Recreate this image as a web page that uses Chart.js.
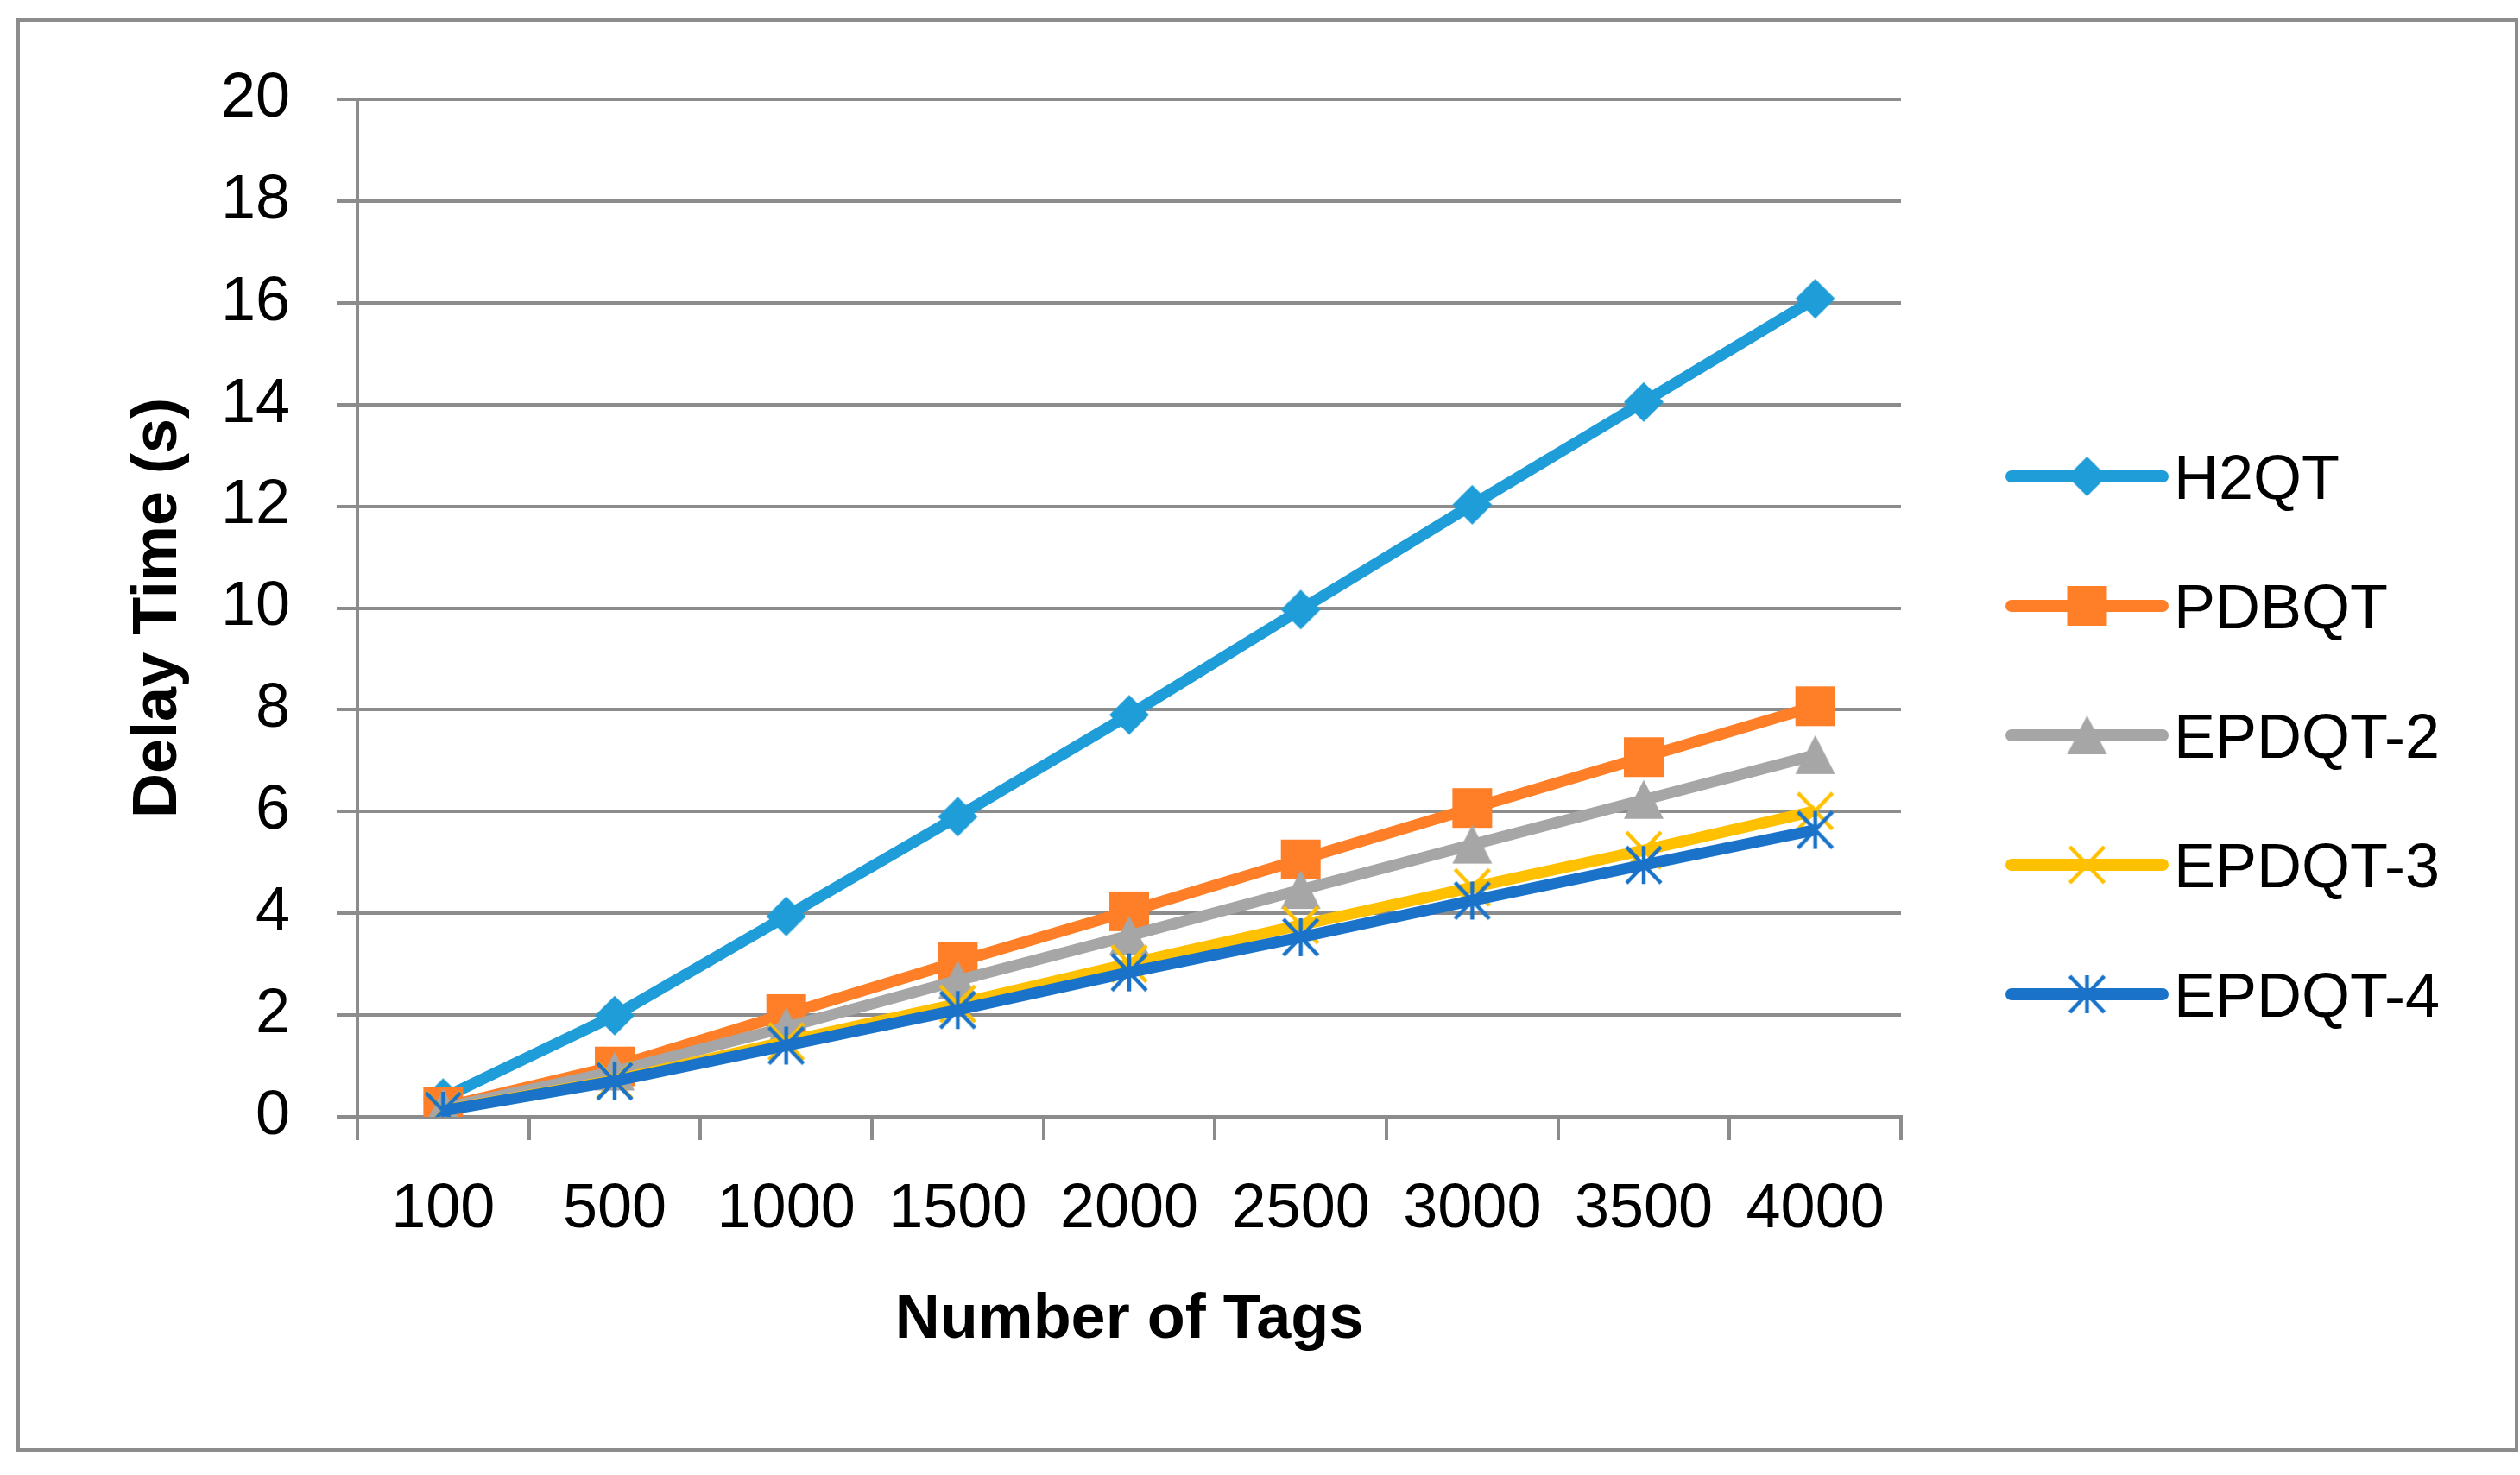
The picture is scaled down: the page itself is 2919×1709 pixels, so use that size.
<!DOCTYPE html>
<html>
<head>
<meta charset="utf-8">
<title>Delay Time vs Number of Tags</title>
<script src="https://cdn.jsdelivr.net/npm/chart.js@4.4.1/dist/chart.umd.min.js"></script>
<style>
  html, body { margin: 0; padding: 0; background: #fff; }
  #wrap { position: relative; width: 2919px; height: 1709px; }
</style>
</head>
<body>
<div id="wrap"><canvas id="delayChart"></canvas></div>
<script>
// Data
const tagCounts = ["100", "500", "1000", "1500", "2000", "2500", "3000", "3500", "4000"];
const seriesNames = ["H2QT", "PDBQT", "EPDQT-2", "EPDQT-3", "EPDQT-4"];
const h2qt = [0.37, 1.99, 3.94, 5.90, 7.90, 9.97, 12.03, 14.05, 16.08];
const pdbqt = [0.19, 0.99, 2.02, 3.05, 4.04, 5.06, 6.07, 7.07, 8.07];
const epdqt2 = [0.17, 0.89, 1.76, 2.68, 3.56, 4.46, 5.35, 6.23, 7.11];
const epdqt3 = [0.13, 0.72, 1.48, 2.22, 3.01, 3.77, 4.51, 5.24, 6.01];
const epdqt4 = [0.12, 0.70, 1.40, 2.10, 2.84, 3.53, 4.25, 4.95, 5.64];
const yTicks = [0, 2, 4, 6, 8, 10, 12, 14, 16, 18, 20];

const colors = ["#1f9dd9", "#fe7f27", "#a6a6a6", "#ffc000", "#1a73c8"];
const gridGray = "#8c8c8c";
const fontFamily = "'Liberation Sans', Arial, sans-serif";

// Excel-like marker images
function makeMarker(kind, color) {
  const c = document.createElement("canvas");
  c.width = 48;
  c.height = 48;
  const g = c.getContext("2d");
  g.fillStyle = color;
  g.strokeStyle = color;
  if (kind === "diamond") {
    g.beginPath();
    g.moveTo(24, 1); g.lineTo(47, 24); g.lineTo(24, 47); g.lineTo(1, 24);
    g.closePath(); g.fill();
  } else if (kind === "square") {
    g.fillRect(1, 1, 46, 46);
  } else if (kind === "triangle") {
    g.beginPath();
    g.moveTo(24, 1); g.lineTo(47, 46); g.lineTo(1, 46);
    g.closePath(); g.fill();
  } else {
    g.lineWidth = 4.5;
    g.beginPath();
    g.moveTo(4, 3); g.lineTo(44, 45);
    g.moveTo(44, 3); g.lineTo(4, 45);
    if (kind === "asterisk") {
      g.moveTo(24, 2); g.lineTo(24, 46);
    }
    g.stroke();
  }
  return c;
}

const markers = [
  makeMarker("diamond", colors[0]),
  makeMarker("square", colors[1]),
  makeMarker("triangle", colors[2]),
  makeMarker("x", colors[3]),
  makeMarker("asterisk", colors[4]),
];

const seriesValues = [h2qt, pdbqt, epdqt2, epdqt3, epdqt4];

const datasets = seriesNames.map((name, i) => ({
  label: name,
  data: seriesValues[i],
  borderColor: colors[i],
  backgroundColor: colors[i],
  borderWidth: 13,
  tension: 0,
  pointStyle: markers[i],
  pointRadius: 23,
  pointHoverRadius: 23,
  order: seriesNames.length - i, // later series drawn on top
}));

// Outer frame + white background
const framePlugin = {
  id: "frame",
  beforeDraw(chart) {
    const ctx = chart.ctx;
    ctx.save();
    ctx.fillStyle = "#fff";
    ctx.fillRect(0, 0, chart.width, chart.height);
    ctx.strokeStyle = gridGray;
    ctx.lineWidth = 4;
    ctx.strokeRect(21, 23, 2894, 1657);
    ctx.restore();
  },
};

// Legend with line + marker, like Excel
const legendPlugin = {
  id: "lineLegend",
  afterDraw(chart) {
    const ctx = chart.ctx;
    const x0 = 2330, x1 = 2505, textX = 2518;
    ctx.save();
    chart.data.datasets.forEach((ds, i) => {
      const y = 552 + 150 * i;
      ctx.strokeStyle = ds.borderColor;
      ctx.lineWidth = 14;
      ctx.lineCap = "round";
      ctx.beginPath();
      ctx.moveTo(x0, y);
      ctx.lineTo(x1, y);
      ctx.stroke();
      const m = ds.pointStyle;
      ctx.drawImage(m, (x0 + x1) / 2 - m.width / 2, y - m.height / 2);
      ctx.fillStyle = "#000";
      ctx.font = "72px " + fontFamily;
      ctx.textBaseline = "alphabetic";
      ctx.textAlign = "left";
      ctx.fillText(ds.label, textX, y + 26);
    });
    ctx.restore();
  },
};

const ctx = document.getElementById("delayChart").getContext("2d");
new Chart(ctx, {
  type: "line",
  data: { labels: tagCounts, datasets },
  options: {
    responsive: true,
    maintainAspectRatio: false,
    animation: false,
    events: [],
    layout: { padding: { left: 141, top: 115, right: 717, bottom: 136 } },
    plugins: {
      legend: { display: false },
      tooltip: { enabled: false },
    },
    scales: {
      x: {
        type: "category",
        offset: true,
        grid: {
          offset: true,
          drawOnChartArea: false,
          drawTicks: true,
          tickLength: 27,
          color: gridGray,
          lineWidth: 4,
        },
        border: { display: true, color: gridGray, width: 4 },
        ticks: {
          color: "#000",
          font: { family: fontFamily, size: 72 },
          padding: 38,
          maxRotation: 0,
          autoSkip: false,
        },
        title: {
          display: true,
          text: "Number of Tags",
          color: "#000",
          font: { family: fontFamily, size: 72, weight: "bold" },
          padding: 0,
        },
        afterFit(scale) { scale.height = 279; },
      },
      y: {
        min: 0,
        max: 20,
        afterBuildTicks(scale) { scale.ticks = yTicks.map((v) => ({ value: v })); },
        grid: {
          color: gridGray,
          lineWidth: 4,
          drawTicks: true,
          tickLength: 24,
        },
        border: { display: true, color: gridGray, width: 4 },
        ticks: {
          color: "#000",
          font: { family: fontFamily, size: 72 },
          padding: 54,
        },
        title: {
          display: true,
          text: "Delay Time (s)",
          color: "#000",
          font: { family: fontFamily, size: 72, weight: "bold" },
          padding: 0,
        },
        afterFit(scale) { scale.width = 273; },
      },
    },
  },
  plugins: [framePlugin, legendPlugin],
});
</script>
</body>
</html>
